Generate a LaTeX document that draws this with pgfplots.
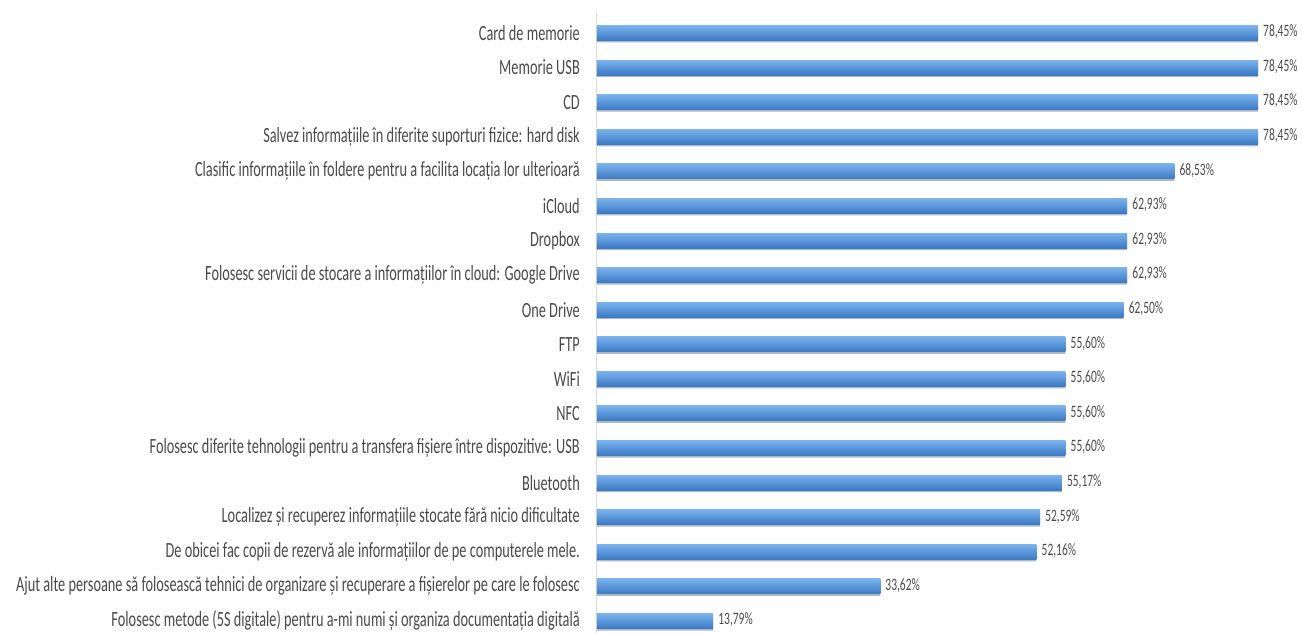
\documentclass[border=0pt]{standalone}
\usepackage{pgfplots}
\pgfplotsset{compat=1.18}
\usepackage{fontspec}
\setmainfont{Carlito}[FakeStretch=0.66]
\definecolor{txt}{HTML}{4A4A4A}
\definecolor{axline}{HTML}{D9D9D9}
\definecolor{bartop}{HTML}{7AB2EC}
\definecolor{barmid}{HTML}{4D92DE}
\definecolor{barbot}{HTML}{3B79C4}
\definecolor{shadowcol}{HTML}{8A9AAA}
\pgfplotsset{
  onebar/.style={xbar, bar shift=0pt, bar width=15pt, draw=none,
    top color=bartop, middle color=barmid, bottom color=barbot, forget plot},
}
\begin{document}
\begin{tikzpicture}[x=1pt,y=1pt]
\useasboundingbox (0,0) rectangle (1302,633);
\begin{axis}[
  at={(597pt,0pt)}, anchor=south west,
  scale only axis, width=705pt, height=620pt,
  xmin=0, xmax=83.67, ymin=0.653, ymax=18.578,
  axis x line=none,
  axis y line*=left,
  y axis line style={axline, line width=1pt, -},
  ytick={1,...,18},
  major tick length=0pt,
  yticklabels={
    {Folosesc metode (5S digitale) pentru a-mi numi și organiza documentația digitală},
    {Ajut alte persoane să folosească tehnici de organizare și recuperare a fișierelor pe care le folosesc},
    {De obicei fac copii de rezervă ale informațiilor de pe computerele mele.},
    {Localizez și recuperez informațiile stocate fără nicio dificultate},
    {Bluetooth},
    {Folosesc diferite tehnologii pentru a transfera fișiere între dispozitive: USB},
    {NFC},
    {WiFi},
    {FTP},
    {One Drive},
    {Folosesc servicii de stocare a informațiilor în cloud: Google Drive},
    {Dropbox},
    {iCloud},
    {Clasific informațiile în foldere pentru a facilita locația lor ulterioară},
    {Salvez informațiile în diferite suporturi fizice: hard disk},
    {CD},
    {Memorie USB},
    {Card de memorie}},
  yticklabel style={anchor=east, inner sep=0pt, xshift=-17pt, font=\fontsize{21.7}{24}\selectfont, text=txt},
  clip=false,
]
% shadow under the bars, carrying the value labels
\addplot[xbar, bar shift=-2pt, bar width=15pt, draw=none, fill=shadowcol, fill opacity=0.7,
  nodes near coords={\pgfmathprintnumber[fixed, fixed zerofill, precision=2, use comma, assume math mode=true]{\pgfplotspointmeta}\%},
  point meta=x,
  nodes near coords style={anchor=west, inner sep=0pt, xshift=5pt, yshift=1pt, font=\fontsize{17.4}{20}\selectfont, text=txt, text opacity=1},
  forget plot] coordinates {
  (13.79,1) (33.62,2) (52.16,3) (52.59,4) (55.17,5) (55.60,6)
  (55.60,7) (55.60,8) (55.60,9) (62.50,10) (62.93,11) (62.93,12)
  (62.93,13) (68.53,14) (78.45,15) (78.45,16) (78.45,17) (78.45,18)
};
\addplot[onebar] coordinates {(13.79,1)};
\addplot[onebar] coordinates {(33.62,2)};
\addplot[onebar] coordinates {(52.16,3)};
\addplot[onebar] coordinates {(52.59,4)};
\addplot[onebar] coordinates {(55.17,5)};
\addplot[onebar] coordinates {(55.60,6)};
\addplot[onebar] coordinates {(55.60,7)};
\addplot[onebar] coordinates {(55.60,8)};
\addplot[onebar] coordinates {(55.60,9)};
\addplot[onebar] coordinates {(62.50,10)};
\addplot[onebar] coordinates {(62.93,11)};
\addplot[onebar] coordinates {(62.93,12)};
\addplot[onebar] coordinates {(62.93,13)};
\addplot[onebar] coordinates {(68.53,14)};
\addplot[onebar] coordinates {(78.45,15)};
\addplot[onebar] coordinates {(78.45,16)};
\addplot[onebar] coordinates {(78.45,17)};
\addplot[onebar] coordinates {(78.45,18)};
\end{axis}
\end{tikzpicture}
\end{document}
